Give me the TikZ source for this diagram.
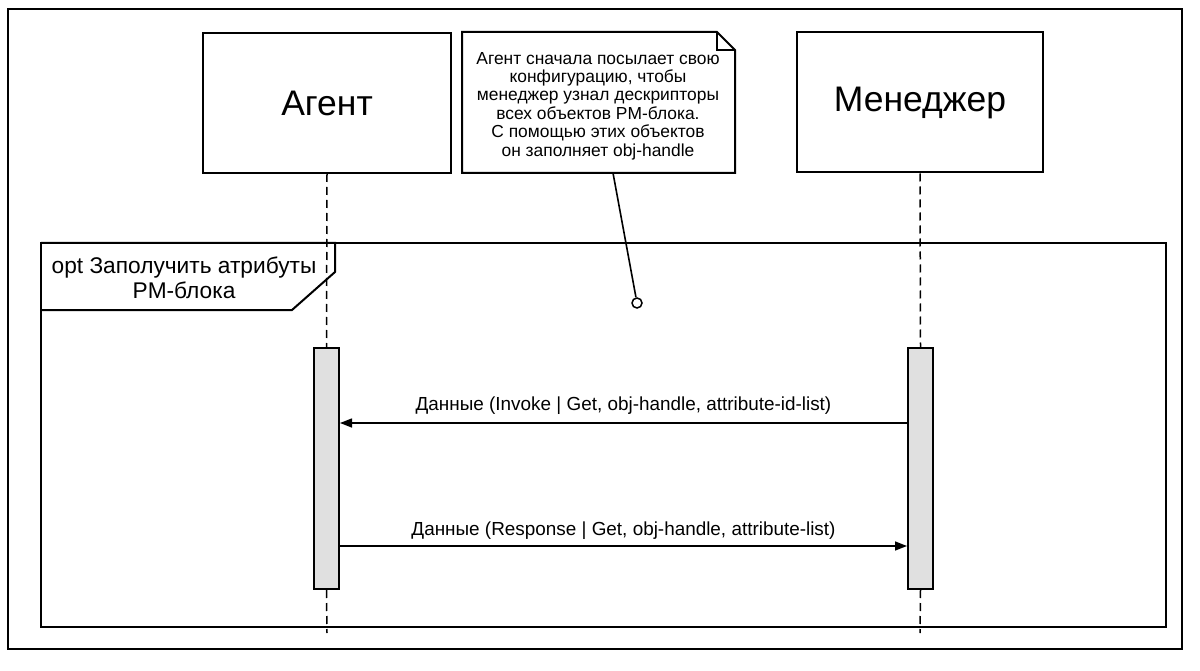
\documentclass[tikz,border=0pt]{standalone}
\usepackage{fontspec}
\setmainfont{Liberation Sans}
\usetikzlibrary{arrows.meta,calc}
\begin{document}
\begin{tikzpicture}[x=1pt,y=-1pt,
  line width=1.6pt,
  actor/.style={draw, line width=2pt, minimum width=248pt, minimum height=140pt, font=\fontsize{35.5}{40}\selectfont, inner sep=0pt},
  bar/.style={draw, fill=black!12, line width=2pt, minimum width=25pt, minimum height=241pt, inner sep=0pt},
  lifeline/.style={dash pattern=on 8pt off 5pt, line width=1.5pt},
  msg/.style={line width=1.4pt, -{Triangle[length=12pt,width=9pt]}},
  lbl/.style={font=\fontsize{18.9}{22}\selectfont, inner sep=0pt},
  frame/.style={draw, line width=2pt},
]
\useasboundingbox (0,0) rectangle (1200,671);
% outer border
\draw[frame] (8,9) rectangle (1182,649);
% opt frame
\draw[frame] (41,243) rectangle (1166,627);
\draw[frame] (41,243) -- (335,243) -- (335,272) -- (292,310) -- (41,310);
\node[font=\fontsize{22.7}{25}\selectfont, align=center, inner sep=0pt] (optlbl) at (184,278) {opt Заполучить атрибуты\\PM-блока};
% actors
\node[actor] (agent) at (327,103) {Агент};
\node[actor, minimum width=246pt] (mgr) at (920,102.5) {Менеджер};
% activation bars
\node[bar] (abar) at (326.5,468.5) {};
\node[bar] (mbar) at (920.5,468.5) {};
% lifelines
\coordinate (aend) at (327,633);
\coordinate (mend) at (920,633);
\draw[lifeline] (agent.south) -- (abar.north);
\draw[lifeline] (abar.south) -- (aend);
\draw[lifeline] (mgr.south) -- (mbar.north);
\draw[lifeline] (mbar.south) -- (mend);
% note
\draw[frame, fill=white] (462,32) -- (717,32) -- (735,50) -- (735,173) -- (462,173) -- cycle;
\draw[line width=1.6pt] (717,32) -- (717,50) -- (735,50);
\node[font=\fontsize{17.4}{18.4}\selectfont, align=center, inner sep=0pt] (notetext) at (598,106)
  {Агент сначала посылает свою\\конфигурацию, чтобы\\менеджер узнал дескрипторы\\всех объектов PM-блока.\\С помощью этих объектов\\он заполняет obj-handle};
\coordinate (notefoot) at (613,173);
\node[circle, draw, fill=white, minimum size=10pt, inner sep=0pt, line width=1.5pt] (pin) at (637,303) {};
\draw[line width=1.6pt] (notefoot) -- (pin);
% messages
\coordinate (m1) at (0,423);
\coordinate (m2) at (0,546);
\draw[msg] (mbar.west |- m1) -- (abar.east |- m1)
  node[lbl, midway, above=8pt] (l1) {Данные (Invoke | Get, obj-handle, attribute-id-list)};
\draw[msg] (abar.east |- m2) -- (mbar.west |- m2)
  node[lbl, midway, above=6pt] (l2) {Данные (Response | Get, obj-handle, attribute-list)};
\end{tikzpicture}
\end{document}
